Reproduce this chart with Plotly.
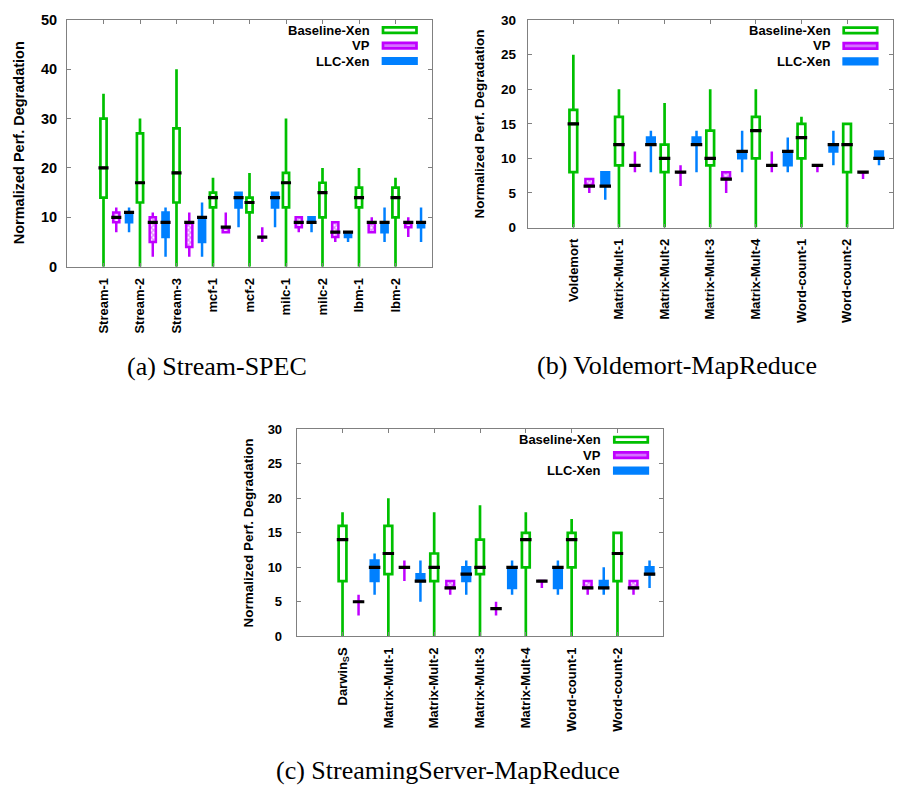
import plotly.graph_objects as go

SANS = "Liberation Sans, Arial, Helvetica, sans-serif"
SERIF = "Liberation Serif, Times New Roman, serif"
GREEN = "#00c000"
PURPLE = "#c000ff"
BLUE = "#0080ff"
AXIS = "#808080"

# ---------------- (a) Stream-SPEC ----------------
a_labels = ["Stream-1", "Stream-2", "Stream-3", "mcf-1", "mcf-2",
            "milc-1", "milc-2", "lbm-1", "lbm-2"]
a_base_min = [0, 0, 0, 0, 0, 0, 0, 0, 0]
a_base_q1 = [14, 13, 13, 12, 11, 12, 10, 12, 10]
a_base_med = [20, 17, 19, 14, 13, 17, 15, 14, 14]
a_base_q3 = [30, 27, 28, 15, 14, 19, 17, 16, 16]
a_base_max = [35, 30, 40, 18, 19, 30, 20, 20, 18]
a_vp_min = [7, 2, 2, 7, 5, 7, 5, 7, 6]
a_vp_q1 = [9, 5, 4, 7, 6, 8, 6, 7, 8]
a_vp_med = [10, 9, 9, 8, 6, 9, 7, 9, 9]
a_vp_q3 = [11, 10, 9, 8, 6, 10, 9, 9, 9]
a_vp_max = [12, 11, 11, 11, 8, 10, 9, 10, 10]
a_llc_min = [7, 2, 2, 8, 8, 7, 5, 5, 5]
a_llc_q1 = [9, 6, 5, 12, 12, 9, 6, 7, 8]
a_llc_med = [11, 9, 10, 14, 14, 9, 7, 9, 9]
a_llc_q3 = [11, 11, 10, 15, 15, 10, 7, 9, 9]
a_llc_max = [12, 12, 13, 15, 15, 10, 7, 12, 12]

# ---------------- (b) Voldemort-MapReduce ----------------
b_labels = ["Voldemort", "Matrix-Mult-1", "Matrix-Mult-2", "Matrix-Mult-3",
            "Matrix-Mult-4", "Word-count-1", "Word-count-2"]
b_base_min = [0, 0, 0, 0, 0, 0, 0]
b_base_q1 = [8, 9, 8, 9, 10, 10, 8]
b_base_med = [15, 12, 10, 10, 14, 13, 12]
b_base_q3 = [17, 16, 12, 14, 16, 15, 15]
b_base_max = [25, 20, 18, 20, 20, 16, 15]
b_vp_min = [5, 8, 6, 5, 8, 8, 7]
b_vp_q1 = [6, 9, 8, 7, 9, 9, 8]
b_vp_med = [6, 9, 8, 7, 9, 9, 8]
b_vp_q3 = [7, 9, 8, 8, 9, 9, 8]
b_vp_max = [7, 11, 9, 8, 11, 9, 8]
b_llc_min = [4, 8, 8, 8, 8, 9, 9]
b_llc_q1 = [6, 12, 12, 10, 9, 11, 10]
b_llc_med = [6, 12, 12, 11, 11, 12, 10]
b_llc_q3 = [8, 13, 13, 11, 11, 12, 11]
b_llc_max = [8, 14, 14, 14, 13, 14, 11]

# ---------------- (c) StreamingServer-MapReduce ----------------
c_labels = ["Darwin<sub>S</sub>S", "Matrix-Mult-1", "Matrix-Mult-2", "Matrix-Mult-3",
            "Matrix-Mult-4", "Word-count-1", "Word-count-2"]
c_base_min = [0, 0, 0, 0, 0, 0, 0]
c_base_q1 = [8, 9, 8, 9, 10, 10, 8]
c_base_med = [14, 12, 10, 10, 14, 14, 12]
c_base_q3 = [16, 16, 12, 14, 15, 15, 15]
c_base_max = [18, 20, 18, 19, 18, 17, 15]
c_vp_min = [3, 8, 6, 3, 7, 6, 6]
c_vp_q1 = [5, 10, 7, 4, 8, 7, 7]
c_vp_med = [5, 10, 7, 4, 8, 7, 7]
c_vp_q3 = [5, 10, 8, 4, 8, 8, 8]
c_vp_max = [6, 11, 8, 5, 8, 8, 8]
c_llc_min = [6, 5, 6, 6, 6, 6, 7]
c_llc_q1 = [8, 8, 8, 7, 7, 7, 9]
c_llc_med = [10, 8, 9, 10, 10, 7, 9]
c_llc_q3 = [11, 9, 10, 10, 10, 8, 10]
c_llc_max = [12, 11, 11, 11, 11, 10, 11]

series_names = ["Baseline-Xen", "VP", "LLC-Xen"]

W, H = 898, 803
BOX_W = 0.17          # box width in category units
OFFSETS = [0.0, 0.35, 0.70]

panels = [
    dict(key="", labels=a_labels, ymax=50, dtick=10, px=(67, 432, 12, 264),
         med_size=7.2, ytick_size=14.5, ytitle_size=14.5, lab_gap=6,
         caption="(a) Stream-SPEC", cap_xy=(217, 366),
         stats=[(a_base_min, a_base_q1, a_base_med, a_base_q3, a_base_max),
                (a_vp_min, a_vp_q1, a_vp_med, a_vp_q3, a_vp_max),
                (a_llc_min, a_llc_q1, a_llc_med, a_llc_q3, a_llc_max)]),
    dict(key="2", labels=b_labels, ymax=30, dtick=5, px=(527.7, 892.7, 12.3, 224),
         med_size=8.2, ytick_size=13.5, ytitle_size=13.5, lab_gap=8,
         caption="(b) Voldemort-MapReduce", cap_xy=(677, 365),
         stats=[(b_base_min, b_base_q1, b_base_med, b_base_q3, b_base_max),
                (b_vp_min, b_vp_q1, b_vp_med, b_vp_q3, b_vp_max),
                (b_llc_min, b_llc_q1, b_llc_med, b_llc_q3, b_llc_max)]),
    dict(key="3", labels=c_labels, ymax=30, dtick=5, px=(296.7, 663.3, 430, 641),
         med_size=8.2, ytick_size=13, ytitle_size=13.5, lab_gap=11,
         caption="(c) StreamingServer-MapReduce", cap_xy=(448, 778),
         stats=[(c_base_min, c_base_q1, c_base_med, c_base_q3, c_base_max),
                (c_vp_min, c_vp_q1, c_vp_med, c_vp_q3, c_vp_max),
                (c_llc_min, c_llc_q1, c_llc_med, c_llc_q3, c_llc_max)]),
]

fig = go.Figure()
layout = dict(width=W, height=H, margin=dict(l=0, r=0, t=0, b=0),
              paper_bgcolor="white", plot_bgcolor="white",
              showlegend=False, barmode="overlay", boxmode="overlay",
              font=dict(family=SANS, color="black"))
annotations = []
shapes = []

for p in panels:
    k = p["key"]
    xa, ya = "x" + k, "y" + k
    x0, x1, y0, y1 = p["px"]
    pw, ph = x1 - x0, y1 - y0
    n = len(p["labels"])
    cats = list(range(1, n + 1))

    for s, (lo, q1, med, q3, hi) in enumerate(p["stats"]):
        xs = [c + OFFSETS[s] for c in cats]
        if s == 1:
            # cross-hatched fill of the VP boxes
            fig.add_trace(go.Bar(
                x=xs, y=[b - a for a, b in zip(q1, q3)], base=q1, width=BOX_W,
                marker=dict(color=PURPLE, line=dict(width=0),
                            pattern=dict(shape="x", fgcolor=PURPLE, bgcolor="white",
                                         size=3.5, solidity=0.6)),
                xaxis=xa, yaxis=ya, hoverinfo="skip", name=series_names[s]))
        color = [GREEN, PURPLE, BLUE][s]
        fill = ["white", "rgba(0,0,0,0)", BLUE][s]
        fig.add_trace(go.Box(
            x=xs, lowerfence=lo, q1=q1, median=med, q3=q3, upperfence=hi,
            width=BOX_W, whiskerwidth=0, fillcolor=fill,
            line=dict(color=color, width=[2.7, 2.5, 2.5][s]), boxpoints=False,
            xaxis=xa, yaxis=ya, name=series_names[s]))
        # black median bars
        fig.add_trace(go.Scatter(
            x=xs, y=med, mode="markers", xaxis=xa, yaxis=ya, hoverinfo="skip",
            marker=dict(symbol="line-ew", size=p["med_size"],
                        line=dict(color="black", width=3.2))))

    dom_x = [x0 / W, x1 / W]
    dom_y = [1 - y1 / H, 1 - y0 / H]
    layout["xaxis" + k] = dict(
        domain=dom_x, anchor=ya, range=[0, n + 1], tickmode="array",
        tickvals=cats, ticktext=p["labels"], tickangle=-90,
        ticks="inside", ticklen=4, tickcolor=AXIS, ticklabelstandoff=5,
        showline=True, linecolor=AXIS, linewidth=1, mirror="ticks",
        showgrid=False, zeroline=False,
        tickfont=dict(family=SANS, size=13, weight="bold", color="black"))
    layout["yaxis" + k] = dict(
        domain=dom_y, anchor=xa, range=[0, p["ymax"]], dtick=p["dtick"],
        ticks="inside", ticklen=4, tickcolor=AXIS, ticklabelstandoff=p["lab_gap"],
        showline=True, linecolor=AXIS, linewidth=1, mirror="ticks",
        showgrid=False, zeroline=False,
        tickfont=dict(family=SANS, size=p["ytick_size"], weight="bold", color="black"))

    xd, yd = xa + " domain", ya + " domain"
    # y-axis title
    annotations.append(dict(
        xref=xd, yref=yd, x=0, y=0.5, xshift=-48, xanchor="center", yanchor="middle",
        text="Normalized Perf. Degradation", textangle=-90, showarrow=False,
        font=dict(family=SANS, size=p["ytitle_size"], weight="bold", color="black")))

    # key in the top-right corner
    for i, name in enumerate(series_names):
        ry = 10.5 + 15.8 * i
        annotations.append(dict(
            xref=xd, yref=yd, x=1 - 60 / pw, y=1 - ry / ph, xanchor="right",
            yanchor="middle", text=name, showarrow=False,
            font=dict(family=SANS, size=13, weight="bold", color="black")))
        sw_fill = ["white", "#d570ff", BLUE][i]
        sw_line = [GREEN, PURPLE, BLUE][i]
        shapes.append(dict(
            type="rect", xref=xd, yref=yd,
            x0=1 - 49 / pw, x1=1 - 15.5 / pw,
            y0=1 - (ry + 2.8) / ph, y1=1 - (ry - 2.8) / ph,
            fillcolor=sw_fill, line=dict(color=sw_line, width=2.7)))

    # caption
    cx, cy = p["cap_xy"]
    annotations.append(dict(
        xref="paper", yref="paper", x=cx / W, y=1 - cy / H, xanchor="center",
        yanchor="middle", text=p["caption"], showarrow=False,
        font=dict(family=SERIF, size=26, color="black")))

layout["annotations"] = annotations
layout["shapes"] = shapes
fig.update_layout(**layout)
fig.write_html("out.html")
